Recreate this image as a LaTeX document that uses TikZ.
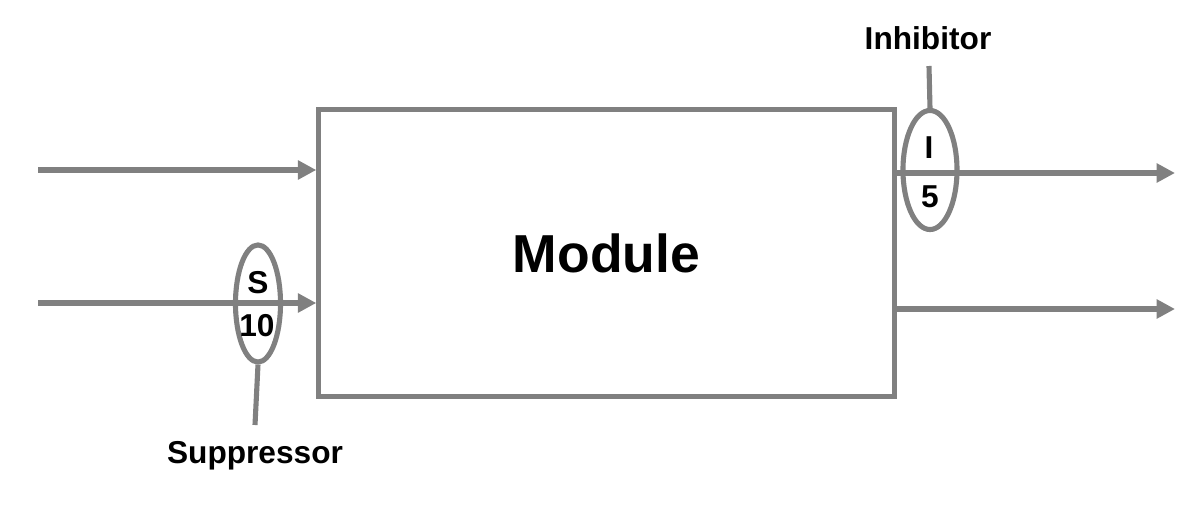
\documentclass[tikz,border=0pt]{standalone}
\usepackage{fontspec}
\setmainfont{Liberation Sans}
\usetikzlibrary{arrows.meta,shapes.geometric}
\definecolor{wire}{HTML}{808080}
\begin{document}
\begin{tikzpicture}[x=0.01cm,y=-0.01cm,
  wireline/.style={draw=wire,line width=1.45pt},
  flow/.style={wireline,-{Triangle[length=5.2pt,width=5.2pt]}},
  gate/.style={ellipse,draw=wire,line width=1.45pt,inner sep=0pt},
  tag/.style={font=\bfseries\fontsize{9}{10}\selectfont,text=black,inner sep=0pt},
  modbox/.style={rectangle,draw=wire,line width=1.45pt,inner sep=0pt,
    font=\bfseries\fontsize{15.2}{18}\selectfont}]
\useasboundingbox (0,0) rectangle (1199,509);

% central module
\node[modbox,minimum width=5.75cm,minimum height=2.86cm] (mod) at (606.5,253) {Module};

% inputs
\coordinate (inA) at (38,170);
\coordinate (inB) at (38,303);
\draw[flow] (inA) -- (inA -| mod.west);
\draw[flow] (inB) -- (inB -| mod.west);

% outputs
\coordinate (outA) at (1175,173);
\coordinate (outB) at (1175,309);
\draw[flow] (outA -| mod.east) -- (outA);
\draw[flow] (outB -| mod.east) -- (outB);

% suppressor on the lower input
\node[gate,minimum width=0.45cm,minimum height=1.17cm] (sup) at (258,303.5) {};
\node[tag] (supS) at (258,283) {S};
\node[tag] (supN) at (257,326) {10};
\coordinate (supEnd) at (255,425);
\draw[wireline] (sup.south) -- (supEnd);
\node[tag] (supLabel) at (255,456) {Suppressor};

% inhibitor on the upper output
\node[gate,minimum width=0.54cm,minimum height=1.19cm] (inh) at (930,170) {};
\node[tag] (inhI) at (929,148) {I};
\node[tag] (inhN) at (930,197) {5};
\coordinate (inhEnd) at (929,66);
\draw[wireline] (inh.north) -- (inhEnd);
\node[tag] (inhLabel) at (928,38) {Inhibitor};
\end{tikzpicture}
\end{document}
